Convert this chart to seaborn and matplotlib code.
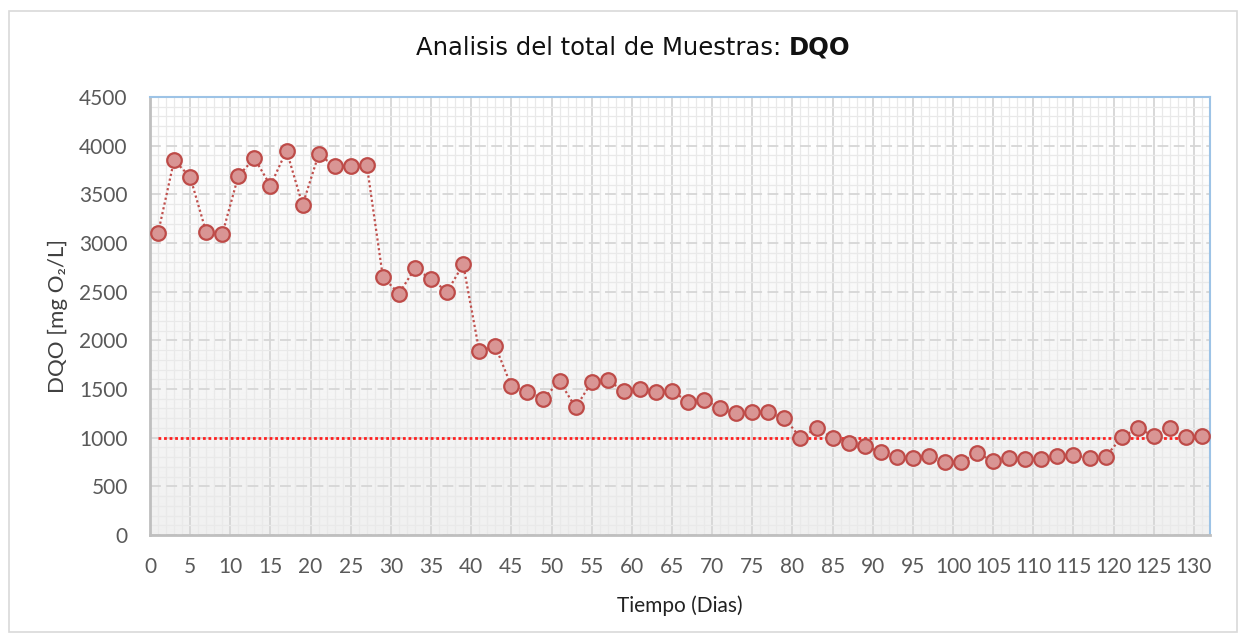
import numpy as np
import pandas as pd
import matplotlib
matplotlib.use("Agg")
import matplotlib.pyplot as plt
import matplotlib.patches as mpatches
from matplotlib.ticker import MultipleLocator
import seaborn as sns

# ---- data ----
days = list(range(1, 132, 2))
dqo = [3100, 3850, 3680, 3110, 3090, 3690, 3870, 3590, 3950, 3390,
       3910, 3790, 3790, 3800, 2650, 2480, 2740, 2630, 2500, 2780,
       1890, 1940, 1530, 1470, 1400, 1580, 1310, 1570, 1590, 1480,
       1500, 1470, 1480, 1370, 1390, 1300, 1250, 1260, 1260, 1200,
       1000, 1095, 1000, 950, 910, 855, 800, 795, 815, 755,
       750, 843, 757, 790, 777, 780, 815, 822, 790, 805,
       1003, 1100, 1015, 1098, 1003, 1022]
limite = [1000] * len(days)
x_ticks = list(range(0, 131, 5))
y_ticks = list(range(0, 4501, 500))
title_main = "Analisis del total de Muestras: "
title_bold = "DQO"
x_label = "Tiempo (Dias)"
y_label = "DQO [mg O\u2082/L]"

df = pd.DataFrame({"Dia": days, "DQO": dqo, "Limite": limite})

sns.set_style("white")
plt.rcParams["font.family"] = ["DejaVu Sans"]

fig = plt.figure(figsize=(12.46, 6.39), dpi=100)
ax = fig.add_axes([150 / 1246, 1 - 535 / 639, 1060 / 1246, 438 / 639])

# outer border
fig.patches.append(mpatches.Rectangle((9 / 1246, 1 - 632 / 639), 1228 / 1246, 621 / 639,
                                      transform=fig.transFigure, fill=False,
                                      edgecolor="#d9d9d9", linewidth=1.2))

# gradient background
grad = np.linspace(1.0, 0.94, 256).reshape(-1, 1)
ax.imshow(grad, cmap="gray", vmin=0, vmax=1, extent=[0, 1, 0, 1],
          transform=ax.transAxes, aspect="auto", zorder=0)

ax.set_xlim(0, 132)
ax.set_ylim(0, 4500)
ax.xaxis.set_major_locator(MultipleLocator(5))
ax.xaxis.set_minor_locator(MultipleLocator(1))
ax.yaxis.set_major_locator(MultipleLocator(500))
ax.yaxis.set_minor_locator(MultipleLocator(100))

ax.grid(which="minor", axis="both", color="#e9e9e9", linewidth=0.9, zorder=1)
ax.grid(which="major", axis="x", color="#d6d6d6", linewidth=1.3, zorder=1)
ax.grid(which="major", axis="y", color="#d6d6d6", linewidth=1.3, linestyle=(0, (6, 3)), zorder=1)
ax.set_axisbelow(True)

sns.lineplot(data=df, x="Dia", y="Limite", ax=ax, color="#ff2020", linewidth=2,
             linestyle=(0, (1, 1)), zorder=3)
sns.lineplot(data=df, x="Dia", y="DQO", ax=ax, color="#c0504d", linewidth=1.6,
             linestyle=(0, (1, 1.2)), marker="o", markersize=10.5,
             markerfacecolor="#d99594", markeredgecolor="#be4b48",
             markeredgewidth=1.6, zorder=4)

ax.set_xticks(x_ticks)
ax.set_yticks(y_ticks)
ax.set_xticklabels([str(v) for v in x_ticks], fontfamily="Lato", fontsize=15, color="#595959")
ax.set_yticklabels([str(v) for v in y_ticks], fontfamily="Lato", fontsize=15, color="#595959")
ax.tick_params(axis="both", which="both", length=0)
ax.tick_params(axis="x", pad=16)
ax.tick_params(axis="y", pad=16)

ax.set_xlabel(x_label, fontfamily="Lato", fontsize=15, color="#222222", labelpad=13)
ax.set_ylabel(y_label, fontfamily="Lato", fontsize=16, color="#404040", labelpad=8)

for side in ["left", "bottom"]:
    ax.spines[side].set_color("#bfbfbf")
    ax.spines[side].set_linewidth(2)
for side in ["top", "right"]:
    ax.spines[side].set_color("#9dc3e6")
    ax.spines[side].set_linewidth(1.5)
    ax.spines[side].set_visible(True)

# title: normal + bold part
t1 = fig.text(0, 1 - 48 / 639, title_main, fontsize=17.5, color="#111111", va="center", ha="left")
t2 = fig.text(0, 1 - 48 / 639, title_bold, fontsize=17.5, color="#111111", va="center",
              ha="left", fontweight="bold")
fig.canvas.draw()
r = fig.canvas.get_renderer()
w1 = t1.get_window_extent(r).width
w2 = t2.get_window_extent(r).width
x0 = (633 - (w1 + w2) / 2)
t1.set_x(x0 / 1246)
t2.set_x((x0 + w1) / 1246)

fig.savefig("out.png", dpi=100)
